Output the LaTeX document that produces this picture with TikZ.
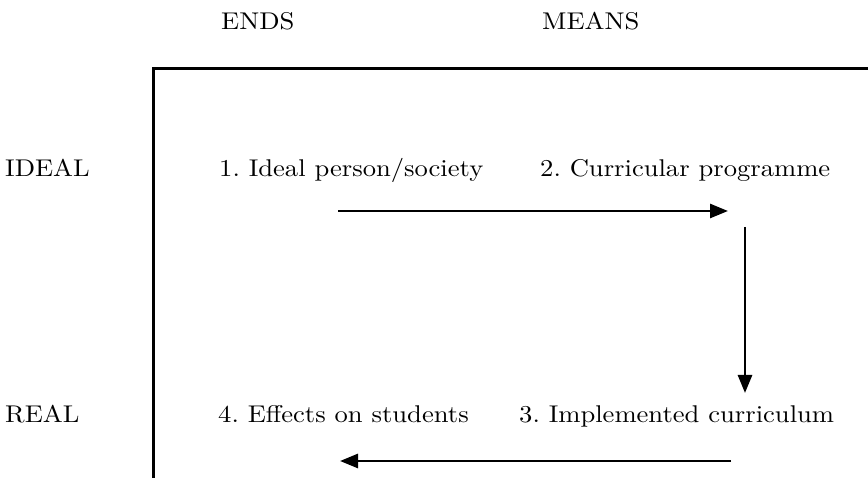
\documentclass[tikz,border=0pt]{standalone}
\usepackage{graphicx}
\usetikzlibrary{arrows.meta}
\frenchspacing
% text set at the 10pt design size, then enlarged
\newcommand{\stagetext}[1]{\scalebox{2.66}[2.42]{#1}}
\begin{document}
\begin{tikzpicture}[x=1pt,y=1pt,
  lbl/.style={anchor=base west,inner sep=0pt},
  frame/.style={line width=3pt},
  flow/.style={line width=2.7pt,-{Triangle[length=18pt,width=14pt]}}]
\useasboundingbox (0,0) rectangle (868,478);
% column and row headings
\node[lbl] (ends)  at (221,448) {\stagetext{ENDS}};
\node[lbl] (means) at (542,448) {\stagetext{MEANS}};
\node[lbl] (ideal) at (5,301) {\stagetext{IDEAL}};
\node[lbl] (real)  at (5,55) {\stagetext{REAL}};
% the four stages
\node[lbl] (s1) at (219,301) {\stagetext{1. Ideal person/society}};
\node[lbl] (s2) at (540,301) {\stagetext{2. Curricular programme}};
\node[lbl] (s3) at (519,55) {\stagetext{3. Implemented curriculum}};
\node[lbl] (s4) at (218,55) {\stagetext{4. Effects on students}};
% L-shaped frame
\coordinate (fb) at (153,0);
\coordinate (fc) at (153,409);
\coordinate (fr) at (868,409);
\draw[frame] (fb) -- (fc) -- (fr);
% flow between stages
\coordinate (a1) at (338,267);
\coordinate (a2) at (728,267);
\coordinate (b1) at (745,251);
\coordinate (b2) at (745,85);
\coordinate (c1) at (731,17);
\coordinate (c2) at (340,17);
\draw[flow] (a1) -- (a2);
\draw[flow] (b1) -- (b2);
\draw[flow] (c1) -- (c2);
\end{tikzpicture}
\end{document}
